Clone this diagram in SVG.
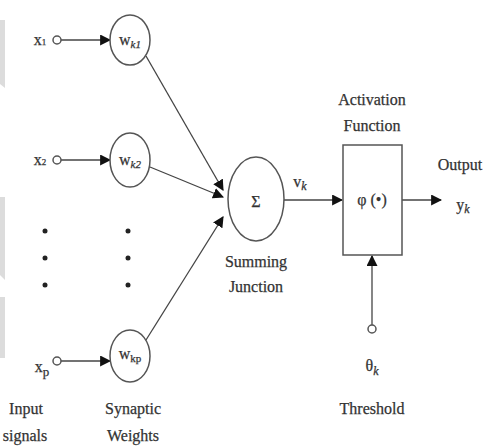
<svg xmlns="http://www.w3.org/2000/svg" width="485" height="446" viewBox="0 0 485 446">
<style>
text{font-family:"Liberation Serif","DejaVu Serif","Times New Roman",serif;fill:#333;font-size:16px;text-anchor:middle;stroke:#333;stroke-width:0.25}
.it{font-style:italic}
.ln{stroke:#444;stroke-width:1.3;fill:none}
.nd{stroke:#555;stroke-width:1.5;fill:#fff}
.dot{fill:#222}
</style>
<defs>
<marker id="ah" viewBox="0 0 10 10" refX="9" refY="5" markerWidth="11" markerHeight="11" markerUnits="userSpaceOnUse" orient="auto">
<path d="M0,0 L10,5 L0,10 z" fill="#111"/>
</marker>
</defs>
<rect width="485" height="446" fill="#fff"/>
<g id="artifacts" fill="#dcdcdc">
<path d="M0,20 H5 V88 L0,84 z"/>
<path d="M0,197 H5 V280 L0,275 z"/>
<path d="M0,297 H5 V358 L0,358 z"/>
</g>
<g id="connectors" class="ln">
<line x1="61" y1="40" x2="110" y2="40" marker-end="url(#ah)"/>
<line x1="61" y1="160" x2="110" y2="160" marker-end="url(#ah)"/>
<line x1="61" y1="361" x2="110" y2="361" marker-end="url(#ah)"/>
<line x1="146" y1="56" x2="223" y2="190" marker-end="url(#ah)"/>
<line x1="150" y1="167" x2="223" y2="197" marker-end="url(#ah)"/>
<line x1="146" y1="340" x2="223" y2="217" marker-end="url(#ah)"/>
<line x1="283" y1="200" x2="342" y2="200" marker-end="url(#ah)"/>
<line x1="402" y1="200" x2="441" y2="200" marker-end="url(#ah)"/>
<line x1="372" y1="325" x2="372" y2="256" marker-end="url(#ah)"/>
</g>
<g id="x1"><circle class="nd" cx="57" cy="40" r="4"/><text x="40" y="45" font-size="14">x<tspan font-size="9">1</tspan></text></g>
<g id="x2"><circle class="nd" cx="57" cy="160" r="4"/><text x="40" y="165" font-size="14">x<tspan font-size="9">2</tspan></text></g>
<g id="xp"><circle class="nd" cx="57" cy="361" r="4"/><text x="42" y="372" font-size="15">x<tspan font-size="13" dy="4">p</tspan></text></g>
<g id="wk1"><ellipse class="nd" cx="130" cy="40" rx="20" ry="25"/><text x="130" y="45" font-size="13">w<tspan class="it" font-size="11" dy="3">k1</tspan></text></g>
<g id="wk2"><ellipse class="nd" cx="130" cy="160" rx="20" ry="27"/><text x="130" y="165" font-size="13">w<tspan class="it" font-size="11" dy="3">k2</tspan></text></g>
<g id="wkp"><ellipse class="nd" cx="130" cy="356" rx="20" ry="26"/><text x="130" y="359" font-size="12">w<tspan font-size="11" dy="3">kp</tspan></text></g>
<g id="dots">
<circle class="dot" cx="45" cy="231" r="2.5"/><circle class="dot" cx="45" cy="258" r="2.5"/><circle class="dot" cx="45" cy="285" r="2.5"/>
<circle class="dot" cx="128" cy="231" r="2.5"/><circle class="dot" cx="128" cy="258" r="2.5"/><circle class="dot" cx="128" cy="285" r="2.5"/>
</g>
<g id="sum"><ellipse class="nd" cx="256" cy="199" rx="28" ry="42"/><text x="256" y="207" font-size="20">Σ</text></g>
<g id="sumlabel"><text x="256" y="267">Summing</text><text x="256" y="292">Junction</text></g>
<g id="vk"><text x="300" y="187" font-size="15">v<tspan class="it" font-size="12" dy="3">k</tspan></text></g>
<g id="activation"><rect class="nd" x="343" y="145" width="59" height="110"/><text x="372" y="205">φ (•)</text></g>
<g id="actlabel"><text x="372" y="105">Activation</text><text x="372" y="131">Function</text></g>
<g id="output"><text x="460" y="170">Output</text><text x="463" y="210" font-size="15">y<tspan class="it" font-size="12" dy="3">k</tspan></text></g>
<g id="threshold"><circle class="nd" cx="372" cy="329" r="4"/><text x="372" y="371" font-size="17">θ<tspan class="it" font-size="12" dy="4">k</tspan></text><text x="372" y="414">Threshold</text></g>
<g id="labels"><text x="26" y="414">Input</text><text x="25" y="441">signals</text><text x="133" y="414">Synaptic</text><text x="133" y="441">Weights</text></g>
</svg>
